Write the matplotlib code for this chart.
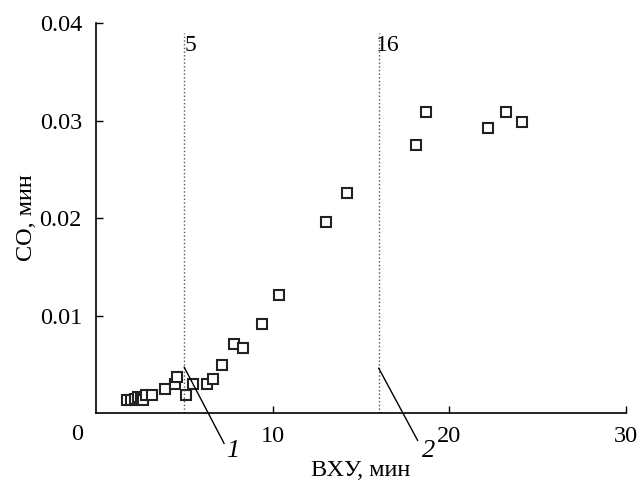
import matplotlib
matplotlib.use("Agg")
import matplotlib.pyplot as plt

# data
vhu = [1.75, 2.0, 2.2, 2.4, 2.55, 2.65, 2.85, 3.2, 3.9, 4.45, 4.6, 5.1, 5.5,
       6.3, 6.6, 7.15, 7.8, 8.3, 9.4, 10.35, 13.0, 14.2, 18.1, 18.7, 22.2,
       23.2, 24.1]
co = [0.0013, 0.0013, 0.0014, 0.0016, 0.0014, 0.0013, 0.0019, 0.0019, 0.0025,
      0.0030, 0.0037, 0.0019, 0.0030, 0.0030, 0.0035, 0.0049, 0.0071, 0.0067,
      0.0091, 0.0121, 0.0196, 0.0226, 0.0275, 0.0309, 0.0292, 0.0309, 0.0298]

vlines = [5, 16]
vline_labels = ["5", "16"]
curve_labels = ["1", "2"]

plt.rcParams['font.family'] = ['Liberation Serif', 'DejaVu Serif']

fig = plt.figure(figsize=(6.39, 4.90), dpi=100)
ax = fig.add_axes([0.150, 0.157, 0.830, 0.796])

ax.plot(vhu, co, linestyle='none', marker='s', markersize=6.5,
        markerfacecolor='white', markeredgecolor='#222222', markeredgewidth=1.5)

for xv, lab in zip(vlines, vline_labels):
    ax.plot([xv, xv], [0, 0.039], linestyle=':', color='#555555', linewidth=1.0)
    ax.text(xv - 0.15 * (len(lab) - 1), 0.0377, lab, ha='left', va='center',
            fontsize=17)

# leader lines for curve numbers
leaders = [((5.0, 0.0047), (7.25, -0.0031), (7.75, -0.0039)),
           ((16.0, 0.0046), (18.2, -0.0028), (18.8, -0.0039))]
for (p0, p1, pl), lab in zip(leaders, curve_labels):
    ax.plot([p0[0], p1[0]], [p0[1], p1[1]], color='black', linewidth=1.0,
            clip_on=False)
    ax.text(pl[0], pl[1], lab, ha='center', va='center', fontsize=19,
            style='italic')

ax.set_xlim(0, 30)
ax.set_ylim(0, 0.04)
ax.set_xticks([10, 20, 30])
ax.set_yticks([0.01, 0.02, 0.03, 0.04])
ax.set_yticklabels(["0.01", "0.02", "0.03", "0.04"])
ax.tick_params(direction='in', length=5, width=1, labelsize=17.5)
ax.tick_params(axis='y', pad=10)
ax.tick_params(axis='x', pad=9)
ax.text(-0.7, -0.0022, "0", ha='right', va='center', fontsize=17.5)

for side in ['top', 'right']:
    ax.spines[side].set_visible(False)
for side in ['left', 'bottom']:
    ax.spines[side].set_linewidth(1.2)

ax.set_xlabel("ВХУ, мин", fontsize=17.5, labelpad=10)
ax.set_ylabel("CO, мин", fontsize=17.5, labelpad=2)

fig.savefig("out.png", dpi=100)
